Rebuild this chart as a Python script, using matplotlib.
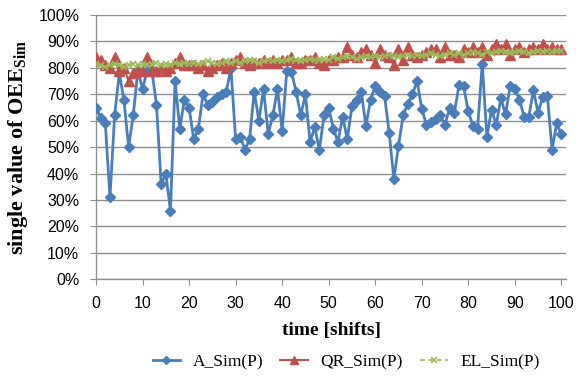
import matplotlib
matplotlib.use("Agg")
import matplotlib.pyplot as plt
from matplotlib.ticker import FuncFormatter, MultipleLocator

shifts = list(range(0, 101))

a_sim = [65, 61, 59, 31, 62, 78, 68, 50, 62, 79,
         72, 79, 79, 66, 36, 40, 26, 75, 57, 68,
         65, 53, 57, 70, 66, 67, 69, 70, 71, 80,
         53, 54, 49, 53, 71, 60, 72, 55, 62, 72,
         56, 79, 78.5, 71, 62, 70, 52, 57.5, 49, 62,
         65, 57, 52, 61.5, 53, 65.5, 68, 71, 58, 68,
         73, 71, 69.5, 55.5, 38, 50.5, 62, 66.5, 70, 75,
         64.5, 58.5, 59.5, 60.5, 62, 58.5, 65, 63, 73.5, 73,
         63.5, 58, 57, 81.5, 54, 64, 58.5, 68.5, 62.5, 73,
         72, 68, 61.5, 61.5, 71.5, 63, 69, 69.5, 49, 59,
         55]

qr_sim = [84, 83, 81, 80, 84, 79, 80, 75, 78, 79,
          79, 84, 79, 79, 80, 79, 80, 82, 84, 81,
          81, 81, 80, 81, 79, 80, 81, 82, 80, 82,
          83, 84, 82, 81, 82, 82, 83, 82, 83, 82,
          83, 83, 84, 82, 82, 83, 83, 84, 82, 81,
          83, 83, 84, 84, 88, 85, 84, 86, 87, 85,
          82, 87, 85, 84, 81, 87, 83, 88, 85, 84,
          85, 86, 87, 87, 84, 88, 85, 85, 84, 87,
          86, 88, 86, 88, 85, 87, 89, 87, 89, 85,
          87, 88, 86, 87, 88, 87, 89, 87, 88, 87,
          87]

el_sim = [81.5, 81, 80.5, 81, 81.5, 81, 80.5, 81, 81.5, 81,
          81.5, 81, 81.5, 82, 81, 81.5, 81, 82, 81.5, 82,
          81.5, 82, 81.5, 82, 82.5, 82, 81.5, 82, 82.5, 82,
          82.5, 82, 82.5, 83, 82.5, 82, 82.5, 83, 82.5, 83,
          82.5, 83, 83.5, 83, 82.5, 83, 83.5, 83, 83, 83.5,
          83, 84, 83.5, 84, 84.5, 84, 83.5, 84, 84.5, 84,
          84.5, 84, 84.5, 85, 84.5, 84, 84.5, 85, 84.5, 85,
          84.5, 85, 85.5, 85, 84.5, 85, 85.5, 85, 85.5, 85,
          85.5, 86, 85.5, 85, 86, 85.5, 86, 86.5, 86, 85.5,
          86, 86.5, 86, 85.5, 86, 86.5, 86, 86.5, 86, 86.5,
          86.5]

labels = ["A_Sim(P)", "QR_Sim(P)", "EL_Sim(P)"]

plt.rcParams['mathtext.fontset'] = 'custom'
plt.rcParams['mathtext.bf'] = 'Liberation Serif:bold'
plt.rcParams['mathtext.rm'] = 'Liberation Serif'

fig = plt.figure(figsize=(5.78, 3.78), dpi=100)
ax = fig.add_axes([96/578, 1-279.3/378, (566-96)/578, (279.3-15)/378])

blue = '#4a7ebb'
red = '#c0504d'
green = '#9bbb59'

ax.plot(shifts, a_sim, color=blue, lw=2.0, marker='D', markersize=5,
        markerfacecolor=blue, markeredgecolor=blue, label=labels[0], zorder=3)
ax.plot(shifts, qr_sim, color=red, lw=1.5, marker='^', markersize=7,
        markerfacecolor=red, markeredgecolor=red, label=labels[1], zorder=4)
ax.plot(shifts, el_sim, color=green, lw=1.2, ls=(0, (3, 2)), marker='x', markersize=5,
        markeredgewidth=1.2, label=labels[2], zorder=5)

ax.set_xlim(0, 101)
ax.set_ylim(0, 100)
ax.xaxis.set_major_locator(MultipleLocator(10))
ax.yaxis.set_major_locator(MultipleLocator(10))
ax.yaxis.set_major_formatter(FuncFormatter(lambda v, p: f"{int(round(v))}%"))

ax.grid(axis='y', color='#8f8f8f', lw=1.0, zorder=0)
ax.set_axisbelow(True)
for s in ['top', 'right']:
    ax.spines[s].set_visible(False)
for s in ['left', 'bottom']:
    ax.spines[s].set_color('#8f8f8f')
    ax.spines[s].set_linewidth(1.0)
ax.tick_params(axis='both', direction='out', length=4, color='#8f8f8f',
               labelsize=11.5, labelcolor='black')
ax.tick_params(axis='x', pad=8)
ax.tick_params(axis='y', pad=8)
for lab in ax.get_xticklabels() + ax.get_yticklabels():
    lab.set_family('Liberation Sans')

ax.set_xlabel("time [shifts]", family='Liberation Serif', fontweight='bold',
              fontsize=14, labelpad=8)
ax.set_ylabel(r"single value of OEE$_{\mathbf{Sim}}$", family='Liberation Serif',
              fontweight='bold', fontsize=16, labelpad=6)

leg = fig.legend(loc='center', bbox_to_anchor=(346/578, 1-362/378), ncol=3, frameon=False,
                 prop={'family': 'Liberation Serif', 'size': 12.5}, handlelength=1.6,
                 columnspacing=1.0, handletextpad=0.7, markerscale=0.8)

fig.savefig("out.png", dpi=100)
